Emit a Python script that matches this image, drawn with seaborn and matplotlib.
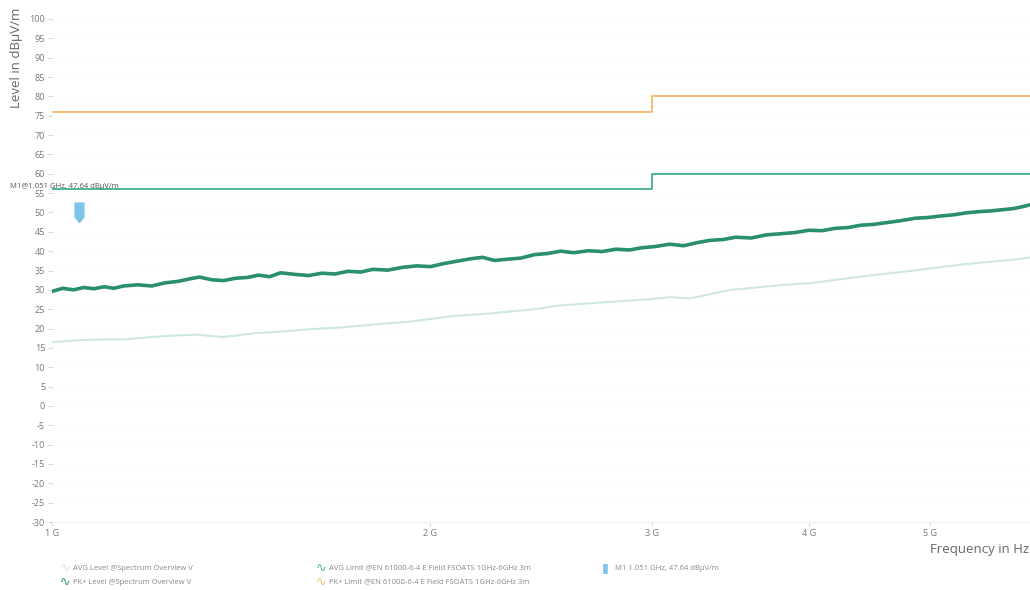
import numpy as np
import pandas as pd
import matplotlib
matplotlib.use('Agg')
import matplotlib.pyplot as plt
import seaborn as sns
from matplotlib.path import Path
from matplotlib.markers import MarkerStyle

# ------------------------------------------------------------
# data (frequency in GHz, level in dBuV/m)
# ------------------------------------------------------------
pk_freq = [1.00, 1.02, 1.04, 1.06, 1.08, 1.10, 1.12, 1.14, 1.17, 1.20,
           1.23, 1.26, 1.29, 1.31, 1.34, 1.37, 1.40, 1.43, 1.46, 1.49,
           1.52, 1.56, 1.60, 1.64, 1.68, 1.72, 1.76, 1.80, 1.85, 1.90,
           1.95, 2.00, 2.05, 2.10, 2.15, 2.20, 2.25, 2.30, 2.36, 2.42,
           2.48, 2.54, 2.60, 2.67, 2.74, 2.81, 2.88, 2.95, 3.02, 3.10,
           3.18, 3.26, 3.34, 3.42, 3.50, 3.60, 3.70, 3.80, 3.90, 4.00,
           4.10, 4.20, 4.30, 4.40, 4.50, 4.62, 4.74, 4.86, 4.98, 5.10,
           5.22, 5.34, 5.46, 5.58, 5.70, 5.82, 5.94, 6.00]
pk_level = [29.6, 30.4, 30.0, 30.6, 30.3, 30.8, 30.4, 31.0, 31.3, 31.0,
            31.8, 32.2, 32.9, 33.3, 32.6, 32.4, 33.0, 33.2, 33.8, 33.4,
            34.4, 34.0, 33.7, 34.3, 34.1, 34.8, 34.6, 35.3, 35.1, 35.8,
            36.2, 36.0, 36.8, 37.4, 38.0, 38.4, 37.6, 37.9, 38.2, 39.1,
            39.4, 40.0, 39.6, 40.1, 39.9, 40.5, 40.3, 40.9, 41.2, 41.8,
            41.4, 42.2, 42.8, 43.0, 43.6, 43.4, 44.2, 44.5, 44.8, 45.4,
            45.3, 45.9, 46.1, 46.7, 46.9, 47.4, 47.9, 48.5, 48.7, 49.1,
            49.4, 49.9, 50.2, 50.4, 50.7, 51.0, 51.6, 52.0]

avg_freq = [1.00, 1.05, 1.10, 1.14, 1.20, 1.25, 1.30, 1.37, 1.45, 1.52,
            1.60, 1.70, 1.80, 1.93, 2.08, 2.25, 2.42, 2.54, 2.70, 2.87,
            3.00, 3.10, 3.22, 3.47, 3.80, 4.03, 4.42, 4.85, 5.31, 5.82, 6.00]
avg_level = [16.5, 17.0, 17.2, 17.2, 17.8, 18.2, 18.4, 17.8, 18.8, 19.2,
             19.8, 20.3, 21.0, 21.8, 23.2, 24.0, 25.0, 26.0, 26.6, 27.2,
             27.6, 28.1, 27.8, 30.0, 31.2, 31.8, 33.5, 35.0, 36.6, 37.8, 38.4]

limit_freq = [1.0, 3.0, 6.0]
avg_limit = [56, 60, 60]
pk_limit = [76, 80, 80]

marker_freq = 1.051
marker_level = 47.64

x_ticks = [1, 2, 3, 4, 5]
x_labels = ['1 G', '2 G', '3 G', '4 G', '5 G']
y_ticks = list(range(-30, 101, 5))

legend_labels = ['AVG Level @Spectrum Overview V',
                 'PK+ Level @Spectrum Overview V',
                 'AVG Limit @EN 61000-6-4 E Field FSOATS 1GHz-6GHz 3m',
                 'PK+ Limit @EN 61000-6-4 E Field FSOATS 1GHz-6GHz 3m',
                 'M1 1.051 GHz, 47.64 dBµV/m']

# colours
C_PK = '#2a8f6c'
C_AVG = '#cde8de'
C_AVG_LIM = '#4db891'
C_PK_LIM = '#f4bd78'
C_MARK = '#7ec3ea'
C_TEXT = '#777777'

sns.set_theme(style='white')
plt.rcParams['font.family'] = ['Open Sans', 'DejaVu Sans']

fig = plt.figure(figsize=(10.3, 5.9), dpi=100)
ax = fig.add_axes([52 / 1030, 68 / 590, 1 - 52 / 1030, 503 / 590])

pk_df = pd.DataFrame({'freq': pk_freq, 'level': pk_level})
avg_df = pd.DataFrame({'freq': avg_freq, 'level': avg_level})
lim_df = pd.DataFrame({'freq': limit_freq, 'avg': avg_limit, 'pk': pk_limit})

sns.lineplot(data=avg_df, x='freq', y='level', ax=ax, color=C_AVG, linewidth=1.5)
sns.lineplot(data=pk_df, x='freq', y='level', ax=ax, color=C_PK, linewidth=2.6)
sns.lineplot(data=lim_df, x='freq', y='avg', ax=ax, color=C_AVG_LIM,
             linewidth=1.4, drawstyle='steps-post')
sns.lineplot(data=lim_df, x='freq', y='pk', ax=ax, color=C_PK_LIM,
             linewidth=1.4, drawstyle='steps-post')

# marker arrow, tip at the marker value
verts = [(-0.45, 2.0), (0.45, 2.0), (0.45, 0.55), (0.0, 0.0), (-0.45, 0.55), (-0.45, 2.0)]
arrow = MarkerStyle(Path(verts, closed=True))
ax.plot([marker_freq], [marker_level], marker=arrow, markersize=28,
        color=C_MARK, linestyle='none')

ax.set_xscale('log')
ax.set_xlim(1, 6)
ax.set_ylim(-30, 100)
ax.set_xticks(x_ticks)
ax.set_xticklabels(x_labels)
ax.xaxis.set_minor_locator(matplotlib.ticker.NullLocator())
ax.set_yticks(y_ticks)
ax.set_yticklabels([str(v) for v in y_ticks])
ax.tick_params(axis='both', labelsize=6.5, labelcolor=C_TEXT, color='#cccccc',
               length=3, width=0.6, direction='out', left=True, bottom=True, pad=2)
ax.set_xlabel('')
ax.set_ylabel('')
ax.grid(axis='y', color='#f8f8f8', linestyle='--', linewidth=0.5)

for side in ['top', 'right', 'left']:
    ax.spines[side].set_visible(False)
ax.spines['bottom'].set_color('#efefef')
ax.spines['bottom'].set_linewidth(0.8)

# axis titles
fig.text(17 / 1030, 1 - 58 / 590, 'Level in dBµV/m', rotation=90,
         ha='center', va='center', fontsize=9.5, color='#666666')
fig.text(930 / 1030, 1 - 549 / 590, 'Frequency in Hz', ha='left', va='center',
         fontsize=9.5, color='#666666')

# marker label
fig.text(10 / 1030, 1 - 186 / 590, 'M1@1.051 GHz, 47.64 dBµV/m', ha='left',
         va='center', fontsize=5.5, color='#555555')

# legend drawn as text rows below the plot
legend_items = [
    (60, 568, '∿', C_AVG, legend_labels[0]),
    (60, 582, '∿', C_PK, legend_labels[1]),
    (316, 568, '∿', C_AVG_LIM, legend_labels[2]),
    (316, 582, '∿', C_PK_LIM, legend_labels[3]),
    (602, 568, '▮', C_MARK, legend_labels[4]),
]
for px, py, icon, col, lab in legend_items:
    fig.text(px / 1030, 1 - py / 590, icon, ha='left', va='center',
             fontsize=9, color=col, family=['DejaVu Sans'])
    fig.text((px + 13) / 1030, 1 - py / 590, lab, ha='left', va='center',
             fontsize=5.5, color='#888888')

fig.savefig('out.png', dpi=100)
